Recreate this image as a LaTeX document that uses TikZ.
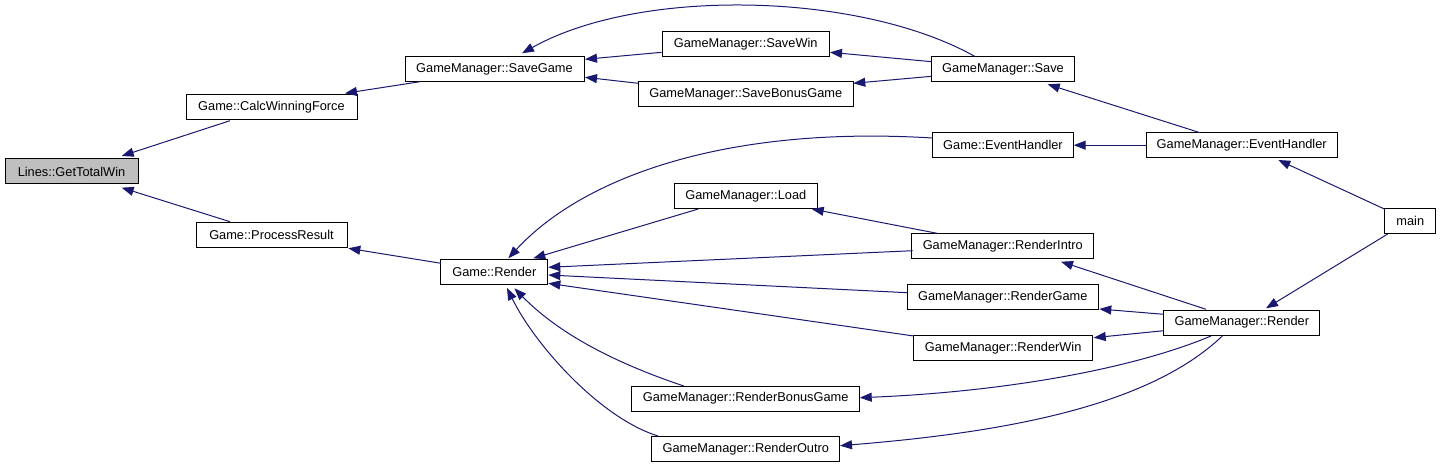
\documentclass[tikz,border=0pt]{standalone}
\usepackage{fontspec}
\setmainfont{Liberation Sans}
\usetikzlibrary{arrows.meta}
\definecolor{edgecol}{RGB}{25,25,112}
\definecolor{hl}{RGB}{191,191,191}
\tikzset{
  fn/.style={draw=black, line width=1pt, fill=white, minimum height=25pt, inner sep=0pt, outer sep=0pt, font=\fontsize{12.8}{14}\selectfont},
  cur/.style={fn, fill=hl},
  call/.style={draw=edgecol, line width=1pt, -{Triangle[length=12pt,width=9pt]}, edgecol},
}
\begin{document}
\begin{tikzpicture}[x=1pt,y=-1pt]
\useasboundingbox (0,0) rectangle (1441,468);
% nodes
\node[cur, minimum width=133pt] (gtw) at (71.5,171.5) {Lines::GetTotalWin};
\node[fn, minimum width=171pt] (calc) at (271.5,107.5) {Game::CalcWinningForce};
\node[fn, minimum width=151pt] (proc) at (271.5,234.5) {Game::ProcessResult};
\node[fn, minimum width=179pt] (sg) at (494.5,69.5) {GameManager::SaveGame};
\node[fn, minimum width=106.7pt] (rend) at (494.3,271.7) {Game::Render};
\node[fn, minimum width=166.7pt] (sw) at (745.7,44.2) {GameManager::SaveWin};
\node[fn, minimum width=215pt] (sbg) at (745.8,94.5) {GameManager::SaveBonusGame};
\node[fn, minimum width=143pt] (load) at (745.8,196) {GameManager::Load};
\node[fn, minimum width=142.7pt] (save) at (1003,69.5) {GameManager::Save};
\node[fn, minimum width=141.4pt] (geh) at (1003,145.2) {Game::EventHandler};
\node[fn, minimum width=190.7pt] (gmeh) at (1241.7,145.2) {GameManager::EventHandler};
\node[fn, minimum width=181.7pt] (ri) at (1002.8,246.2) {GameManager::RenderIntro};
\node[fn, minimum width=191pt] (rg) at (1002.8,297) {GameManager::RenderGame};
\node[fn, minimum width=179pt] (rw) at (1003.2,347.7) {GameManager::RenderWin};
\node[fn, minimum width=156.3pt] (gmr) at (1241.8,322.5) {GameManager::Render};
\node[fn, minimum width=228pt] (rbg) at (745.7,398.5) {GameManager::RenderBonusGame};
\node[fn, minimum width=188.3pt] (ro) at (745.8,449.2) {GameManager::RenderOutro};
\node[fn, minimum width=50.7pt] (main) at (1410.3,221) {main};
% edges
\draw[call] ([shift={(-41.5,13.2)}]calc.center) -- ([shift={(50.2,-15.5)}]gtw.center);
\draw[call] ([shift={(-41.5,-12.8)}]proc.center) -- ([shift={(50.2,16.2)}]gtw.center);
\draw[call] ([shift={(-74.5,12.2)}]sg.center) -- ([shift={(73.5,-14.2)}]calc.center);
\draw[call] ([shift={(-53.3,-8.4)}]rend.center) -- ([shift={(76.8,13.8)}]proc.center);
\draw[call] ([shift={(-84,8.1)}]sw.center) -- ([shift={(90.5,-10.2)}]sg.center);
\draw[call] ([shift={(-107.5,-11.2)}]sbg.center) -- ([shift={(90.5,7.8)}]sg.center);
\draw[call] ([shift={(-28,-13)}]save.center) .. controls (860,-8) and (640,-13) .. ([shift={(27.5,-16.2)}]sg.center);
\draw[call] ([shift={(-71.3,-7.8)}]save.center) -- ([shift={(84.3,8.1)}]sw.center);
\draw[call] ([shift={(-71.3,6.8)}]save.center) -- ([shift={(107.5,-11.2)}]sbg.center);
\draw[call] ([shift={(-41.7,-12.5)}]gmeh.center) -- ([shift={(44.7,14.8)}]save.center);
\draw[call] (gmeh.west) -- (geh.east);
\draw[call] ([shift={(-25.3,-11.7)}]main.center) -- ([shift={(36.6,14.8)}]gmeh.center);
\draw[call] ([shift={(-22.6,13)}]main.center) -- ([shift={(24.2,-14.2)}]gmr.center);
\draw[call] ([shift={(-70.7,-7.2)}]geh.center) .. controls (720,125) and (580,180) .. ([shift={(14,-13.4)}]rend.center);
\draw[call] ([shift={(-47.5,13)}]load.center) -- ([shift={(39,-13.4)}]rend.center);
\draw[call] ([shift={(-65.8,-12.9)}]ri.center) -- ([shift={(65.9,13)}]load.center);
\draw[call] ([shift={(-90.1,4.5)}]ri.center) -- ([shift={(54,-4.4)}]rend.center);
\draw[call] ([shift={(-95.5,-4.3)}]rg.center) -- ([shift={(54,3.3)}]rend.center);
\draw[call] ([shift={(-89.5,-11.7)}]rw.center) -- ([shift={(54,11.6)}]rend.center);
\draw[call] ([shift={(-61.9,-12.5)}]rbg.center) .. controls (630,368) and (565,340) .. ([shift={(20.1,16.6)}]rend.center);
\draw[call] ([shift={(-87.8,-13.2)}]ro.center) .. controls (600,418) and (535,345) .. ([shift={(12.7,16.3)}]rend.center);
\draw[call] ([shift={(-35.8,-13.2)}]gmr.center) -- ([shift={(58.2,15.5)}]ri.center);
\draw[call] ([shift={(-78.1,-8.2)}]gmr.center) -- ([shift={(96.5,12)}]rg.center);
\draw[call] ([shift={(-78.1,8.2)}]gmr.center) -- ([shift={(90.5,-10)}]rw.center);
\draw[call] ([shift={(-30.8,13.5)}]gmr.center) .. controls (1130,370) and (1000,392) .. ([shift={(114,-0.8)}]rbg.center);
\draw[call] ([shift={(-19.5,13.5)}]gmr.center) .. controls (1150,405) and (1010,432) .. ([shift={(94.2,-3.5)}]ro.center);
\end{tikzpicture}
\end{document}
